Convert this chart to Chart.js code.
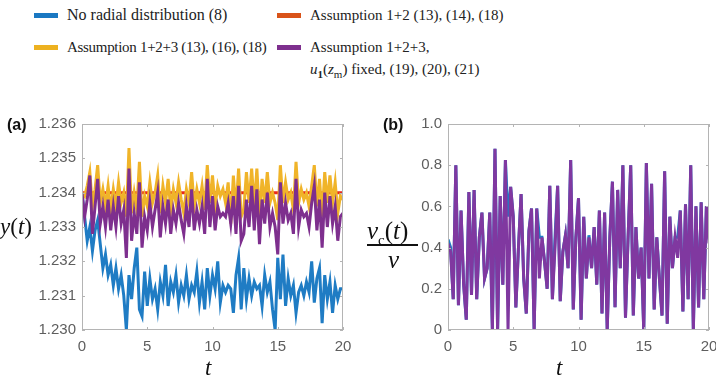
<!DOCTYPE html>
<html>
<head>
<meta charset="utf-8">
<script src="https://cdn.jsdelivr.net/npm/chart.js@4"></script>
<style>
body{margin:0;width:716px;height:379px;overflow:hidden;position:relative;background:#fff;font-family:"Liberation Serif",serif;color:#222}
canvas{position:absolute;top:100px}
.lab{position:absolute;white-space:nowrap;line-height:1}
.sw{position:absolute;width:24px;height:5px}
.leg{position:absolute;font-size:15px;white-space:nowrap;line-height:1}
.pan{position:absolute;font:bold 16px "Liberation Sans",Arial,sans-serif;color:#111}
.math{font-family:"Liberation Serif",serif;font-size:23px;color:#111}
</style>
</head>
<body>

<div class="sw" style="left:34px;top:13px;background:#1a78c2"></div>
<div class="leg" style="left:67px;top:7px;font-size:16px">No radial distribution (8)</div>
<div class="sw" style="left:277px;top:13px;background:#d95319"></div>
<div class="leg" style="left:310px;top:8px">Assumption 1+2 (13), (14), (18)</div>
<div class="sw" style="left:34px;top:45px;background:#edb120"></div>
<div class="leg" style="left:67px;top:40px;letter-spacing:-0.3px">Assumption 1+2+3 (13), (16), (18)</div>
<div class="sw" style="left:277px;top:45px;background:#7e2f8e"></div>
<div class="leg" style="left:310px;top:40px">Assumption 1+2+3,</div>
<div class="leg" style="left:310px;top:62px"><i>u</i><sub style="font-size:11px"><b>1</b></sub>(<i>z</i><sub style="font-size:11px">m</sub>) fixed, (19), (20), (21)</div>

<canvas id="chartA" width="360" height="279" style="left:0"></canvas>
<canvas id="chartB" width="380" height="279" style="left:360px"></canvas>

<div class="pan" style="left:7px;top:116px">(a)</div>
<div class="pan" style="left:383px;top:116px">(b)</div>

<div class="lab math" style="left:0px;top:215px"><i>y</i>(<i>t</i>)</div>
<div class="lab math" style="left:205px;top:356px"><i>t</i></div>
<div class="lab math" style="left:556px;top:356px"><i>t</i></div>

<div class="lab math" style="left:367px;top:218px;font-size:25px"><i>v</i><sub style="font-size:15px">c</sub>(<i>t</i>)</div>
<div style="position:absolute;left:367px;top:244px;width:51px;height:1.5px;background:#111"></div>
<div class="lab math" style="left:388px;top:247px;font-size:25px"><i>v</i></div>

<script>
const tVals=[0,0.2,0.4,0.6,0.8,1,1.2,1.4,1.6,1.8,2,2.2,2.4,2.6,2.8,3,3.2,3.4,3.6,3.8,
4,4.2,4.4,4.6,4.8,5,5.2,5.4,5.6,5.8,6,6.2,6.4,6.6,6.8,7,7.2,7.4,7.6,7.8,
8,8.2,8.4,8.6,8.8,9,9.2,9.4,9.6,9.8,10,10.2,10.4,10.6,10.8,11,11.2,11.4,11.6,11.8,
12,12.2,12.4,12.6,12.8,13,13.2,13.4,13.6,13.8,14,14.2,14.4,14.6,14.8,15,15.2,15.4,15.6,15.8,
16,16.2,16.4,16.6,16.8,17,17.2,17.4,17.6,17.8,18,18.2,18.4,18.6,18.8,19,19.2,19.4,19.6,19.8,20]

// panel (a): y(t)
const noRadialA=[1.2340,1.2333,1.2326,1.2330,1.2323,1.2329,1.2332,1.2325,1.2318,1.2322,
1.2316,1.2319,1.2313,1.2318,1.2312,1.2316,1.2310,1.2300,1.2316,1.2309,
1.2318,1.2324,1.2306,1.2304,1.2317,1.2307,1.2315,1.2309,1.2312,1.2306,
1.2314,1.2310,1.2319,1.2307,1.2314,1.2311,1.2316,1.2308,1.2313,1.2310,
1.2316,1.2309,1.2313,1.2311,1.2317,1.2308,1.2314,1.2306,1.2318,1.2310,
1.2316,1.2312,1.2320,1.2308,1.2313,1.2311,1.2313,1.2312,1.2305,1.2316,
1.2321,1.2306,1.2318,1.2309,1.2315,1.2310,1.2314,1.2312,1.2313,1.2307,
1.2316,1.2311,1.2314,1.2306,1.2300,1.2321,1.2309,1.2322,1.2307,1.2315,
1.2310,1.2313,1.2305,1.2311,1.2313,1.2310,1.2314,1.2311,1.2320,1.2308,
1.2315,1.2318,1.2302,1.2316,1.2309,1.2314,1.2305,1.2313,1.2309,1.2312,1.2312]

const assump12T=[0,20]
const assump12A=[1.234,1.234]

const assump123A=[1.2340,1.2339,1.2342,1.2346,1.2336,1.2341,1.2348,1.2337,1.2341,1.2336,
1.2342,1.2335,1.2341,1.2336,1.2343,1.2337,1.2340,1.2333,1.2353,1.2334,
1.2340,1.2335,1.2349,1.2333,1.2339,1.2336,1.2343,1.2337,1.2340,1.2345,
1.2334,1.2342,1.2337,1.2344,1.2335,1.2341,1.2337,1.2343,1.2338,1.2334,
1.2341,1.2337,1.2346,1.2336,1.2341,1.2337,1.2342,1.2335,1.2348,1.2337,
1.2345,1.2336,1.2342,1.2339,1.2341,1.2337,1.2343,1.2331,1.2345,1.2335,
1.2347,1.2333,1.2335,1.2346,1.2337,1.2347,1.2336,1.2347,1.2333,1.2344,
1.2337,1.2346,1.2337,1.2340,1.2337,1.2332,1.2348,1.2337,1.2343,1.2338,
1.2340,1.2335,1.2349,1.2337,1.2341,1.2338,1.2340,1.2336,1.2342,1.2348,
1.2336,1.2344,1.2333,1.2346,1.2337,1.2345,1.2337,1.2343,1.2334,1.2339,1.2338]

const fixedU1A=[1.2340,1.2333,1.2338,1.2345,1.2328,1.2336,1.2344,1.2331,1.2336,1.2330,
1.2338,1.2329,1.2336,1.2330,1.2339,1.2331,1.2335,1.2321,1.2347,1.2326,
1.2334,1.2328,1.2343,1.2324,1.2333,1.2329,1.2337,1.2330,1.2335,1.2340,
1.2327,1.2336,1.2331,1.2338,1.2328,1.2335,1.2331,1.2337,1.2332,1.2328,
1.2336,1.2330,1.2341,1.2329,1.2335,1.2331,1.2336,1.2328,1.2344,1.2330,
1.2339,1.2329,1.2336,1.2333,1.2334,1.2333,1.2337,1.2331,1.2339,1.2328,
1.2342,1.2326,1.2328,1.2338,1.2330,1.2342,1.2329,1.2341,1.2325,1.2338,
1.2331,1.2340,1.2330,1.2334,1.2330,1.2322,1.2343,1.2331,1.2337,1.2332,
1.2334,1.2328,1.2344,1.2330,1.2335,1.2333,1.2334,1.2330,1.2337,1.2342,
1.2329,1.2338,1.2324,1.2340,1.2330,1.2339,1.2331,1.2336,1.2326,1.2333,1.2334]

// panel (b): vc(t)/v
const fixedU1B=[0.42,0.38,0.15,0.80,0.12,0.58,0.22,0.05,0.67,0.17,
0.68,0.15,0.45,0.57,0.25,0.30,0.57,0.00,0.88,0.00,
0.65,0.22,0.825,0.00,0.695,0.55,0.11,0.40,0.66,0.25,
0.08,0.48,0.59,0.00,0.59,0.25,0.45,0.33,0.20,0.70,
0.15,0.40,0.70,0.14,0.38,0.46,0.30,0.825,0.10,0.45,
0.64,0.05,0.55,0.25,0.45,0.30,0.50,0.22,0.58,0.08,
0.57,0.00,0.45,0.72,0.11,0.68,0.30,0.80,0.06,0.45,
0.80,0.07,0.50,0.25,0.40,0.00,0.81,0.25,0.71,0.10,
0.45,0.25,0.07,0.77,0.03,0.55,0.30,0.45,0.35,0.58,
0.09,0.61,0.15,0.80,0.00,0.60,0.11,0.62,0.15,0.60,0.42]

const noRadialB=[0.44,0.40,0.15,0.80,0.12,0.58,0.22,0.05,0.67,0.17,
0.68,0.15,0.45,0.57,0.25,0.30,0.57,0.00,0.88,0.00,
0.65,0.22,0.825,0.55,0.695,0.55,0.11,0.40,0.66,0.25,
0.08,0.48,0.59,0.00,0.59,0.45,0.45,0.33,0.20,0.70,
0.15,0.45,0.70,0.14,0.38,0.46,0.30,0.825,0.10,0.45,
0.64,0.05,0.55,0.25,0.46,0.30,0.50,0.22,0.58,0.08,
0.57,0.00,0.45,0.72,0.11,0.68,0.30,0.80,0.06,0.45,
0.80,0.07,0.50,0.25,0.40,0.00,0.81,0.25,0.71,0.10,
0.45,0.25,0.07,0.77,0.03,0.55,0.30,0.45,0.45,0.58,
0.09,0.61,0.15,0.80,0.00,0.60,0.11,0.62,0.15,0.60,0.44]

const xTicks=[0,5,10,15,20]
const yTicksA=[1.230,1.231,1.232,1.233,1.234,1.235,1.236]
const yLabelsA=["1.230","1.231","1.232","1.233","1.234","1.235","1.236"]
const yTicksB=[0,0.2,0.4,0.6,0.8,1.0]
const yLabelsB=["0","0.2","0.4","0.6","0.8","1.0"]

Chart.defaults.font.family="'Liberation Sans',Arial,sans-serif"
Chart.defaults.font.size=15
Chart.defaults.color="#5e5e5e"
Chart.defaults.animation=false

function pts(xs,ys){
return ys.map((v,i)=>({x:xs[i],y:v}))
}

function line(data,color){
return {data:data,borderColor:color,borderWidth:3,pointRadius:0,tension:0,clip:0}
}

// matlab style box with inward ticks
const boxPlugin={
id:"box",
afterDraw(chart){
const {ctx,chartArea:a,scales}=chart
ctx.save()
ctx.strokeStyle="#b4b4b4"
ctx.lineWidth=1
ctx.strokeRect(a.left+0.5,a.top+0.5,a.width-1,a.height-1)
scales.x.ticks.forEach(t=>{
const px=Math.round(scales.x.getPixelForValue(t.value))+0.5
ctx.beginPath()
ctx.moveTo(px,a.bottom);ctx.lineTo(px,a.bottom-3)
ctx.moveTo(px,a.top);ctx.lineTo(px,a.top+3)
ctx.stroke()
})
scales.y.ticks.forEach(t=>{
const py=Math.round(scales.y.getPixelForValue(t.value))+0.5
ctx.beginPath()
ctx.moveTo(a.left,py);ctx.lineTo(a.left+3,py)
ctx.moveTo(a.right,py);ctx.lineTo(a.right-3,py)
ctx.stroke()
})
ctx.restore()
}
}

function makeChart(id,datasets,yMin,yMax,yTicks,yLabels,yWidth,padRight){
return new Chart(document.getElementById(id),{
type:"line",
data:{datasets:datasets},
options:{
responsive:false,
layout:{padding:{top:24,right:padRight,left:0,bottom:0}},
plugins:{legend:{display:false},tooltip:{enabled:false}},
scales:{
x:{type:"linear",min:0,max:20,
grid:{display:false,drawTicks:false},border:{display:false},
afterBuildTicks:s=>{s.ticks=xTicks.map(v=>({value:v}))},
ticks:{padding:8,maxRotation:0},
afterFit:s=>{s.height=49}},
y:{type:"linear",min:yMin,max:yMax,
grid:{display:false,drawTicks:false},border:{display:false},
afterBuildTicks:s=>{s.ticks=yTicks.map(v=>({value:v}))},
ticks:{padding:6,callback:(v,i)=>yLabels[i]},
afterFit:s=>{s.width=yWidth}}
}
},
plugins:[boxPlugin]
})
}

makeChart("chartA",[
line(pts(tVals,fixedU1A),"#7e2f8e"),
line(pts(tVals,assump123A),"#f0b429"),
line(pts(assump12T,assump12A),"#e8261c"),
line(pts(tVals,noRadialA),"#1f7cc4")
],1.230,1.236,yTicksA,yLabelsA,82,17)

makeChart("chartB",[
line(pts(tVals,fixedU1B),"#8038a0"),
line(pts(tVals,noRadialB),"#1f7cc4")
],0,1,yTicksB,yLabelsB,88,31)
</script>
</body>
</html>
